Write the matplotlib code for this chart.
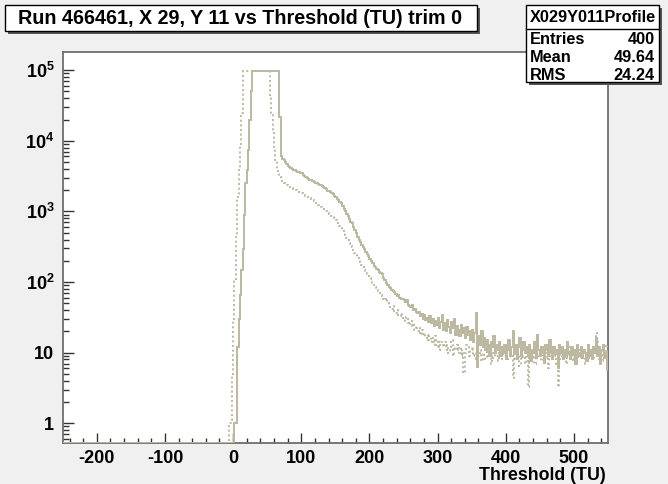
import numpy as np
import matplotlib
matplotlib.use("Agg")
import matplotlib.pyplot as plt
from matplotlib.patches import Rectangle
from matplotlib.lines import Line2D
from matplotlib.ticker import LogLocator, FixedLocator, NullFormatter

plt.rcParams['font.family'] = ['Liberation Sans', 'DejaVu Sans']
plt.rcParams['font.weight'] = 'bold'
plt.rcParams['mathtext.fontset'] = 'custom'
plt.rcParams['mathtext.rm'] = 'Liberation Sans:bold'
plt.rcParams['mathtext.bf'] = 'Liberation Sans:bold'
plt.rcParams['mathtext.it'] = 'Liberation Sans:bold'

# ---------------- data ----------------
title = "Run 466461, X 29, Y 11 vs Threshold (TU) trim 0"
stats_name = "X029Y011Profile"
stats_rows = [("Entries", "400"), ("Mean", "49.64"), ("RMS", "24.24")]
x_label = "Threshold (TU)"

x_min, x_max, bin_width = -250, 550, 2
x_ticks = [-200, -100, 0, 100, 200, 300, 400, 500]
y_ticks = [1, 10, 100, 1000, 10000, 100000]
y_tick_labels = ["1", "10", r"$10^{2}$", r"$10^{3}$", r"$10^{4}$", r"$10^{5}$"]

# bins -250 .. -12 are empty for both series
n_empty_left = 120

# solid series, bins starting at -10
solid_values = [
    0, 0, 0, 0, 0, 0, 1, 1, 12, 30,
    65, 150, 290, 900, 2500, 3900, 7400, 20000, 50000, 96000,
    96000, 96000, 96000, 96000, 96000, 96000, 96000, 96000, 96000, 96000,
    96000, 96000, 96000, 96000, 96000, 96000, 96000, 96000, 96000, 22000,
    6000, 5600, 5300, 5000, 4700, 4400, 4300, 4100, 4000, 3900,
    3800, 3700, 3650, 3600, 3550, 3450, 3300, 3200, 3100, 3000,
    2900, 2800, 2750, 2700, 2600, 2550, 2500, 2450, 2400, 2380,
    2300, 2200, 2150, 2050, 1950, 1950, 1900, 1830, 1780, 1650,
    1600, 1500, 1430, 1350, 1300, 1200, 1100, 1000, 930, 850,
    790, 720, 680, 600, 540, 490, 440, 400, 370, 340,
    310, 295, 265, 250, 230, 210, 200, 185, 170, 165,
    155, 150, 140, 134, 128, 115, 108, 98, 92, 86,
    82, 78, 74, 72, 68, 64, 66, 60, 58, 57,
    55, 52, 56, 48, 46, 44, 47, 40, 41, 38,
    36, 38, 33, 35, 30, 34, 29, 31, 27, 33,
    26, 30, 24, 28, 25, 31, 22, 27, 34, 21,
    26, 20, 29, 23, 19, 27, 22, 30, 18, 24,
    21, 17, 25, 19, 22, 16, 23, 18, 20, 15,
    21, 14, 19, 36, 6.3, 17, 13, 20, 12, 16,
    11, 15, 13, 9, 14, 12, 17, 10, 13, 11,
    14, 9, 12, 10, 13, 8, 11, 15, 9, 12,
    20, 10, 13, 8, 12, 16, 9, 11, 14, 10,
    12, 9, 13, 7.5, 11, 10, 14, 8.5, 17.8, 11,
    9, 12, 10, 7.2, 13, 11, 9, 15, 10, 8,
    12, 9.5, 11, 6, 13, 10, 12, 8, 11, 9,
    14, 10, 8, 12, 9.5, 11, 7, 13, 10, 9,
    12, 8.5, 11, 10, 7.5, 13, 9, 11, 8, 12,
    10, 16, 9, 12, 7, 11, 13, 8.5, 10, 5.7,
]

# dotted series, bins starting at -10
dotted_values = [
    0, 0, 1, 1, 5, 29, 107, 440, 1620, 3900,
    9000, 25000, 96000, 96000, 96000, 96000, 96000, 96000, 96000, 96000,
    96000, 96000, 96000, 96000, 96000, 96000, 96000, 96000, 96000, 96000,
    96000, 96000, 45000, 25000, 14000, 8300, 5300, 4000, 3500, 3100,
    2800, 2650, 2550, 2450, 2400, 2300, 2250, 2200, 2150, 2100,
    2050, 2000, 1950, 1900, 1850, 1800, 1750, 1700, 1650, 1620,
    1580, 1540, 1500, 1460, 1420, 1380, 1330, 1230, 1190, 1150,
    1110, 1070, 1030, 1000, 960, 930, 900, 870, 830, 800,
    750, 710, 670, 620, 580, 540, 500, 460, 420, 390,
    360, 330, 310, 280, 260, 245, 225, 205, 190, 175,
    170, 150, 140, 130, 120, 115, 105, 98, 92, 85,
    80, 75, 70, 66, 64, 58, 55, 60, 50, 47,
    45, 42, 46, 38, 36, 40, 34, 33, 36, 31,
    30, 28, 32, 26, 25, 28, 23, 26, 21, 24,
    20, 22, 18, 21, 17, 19, 16, 18, 15, 17,
    14, 16, 13, 17, 12, 15, 11, 14, 13, 12,
    14, 11, 13, 10, 12, 15, 9, 12, 11, 13,
    10, 12, 9, 11, 5.2, 10, 13, 12, 9, 11,
    12, 9, 10, 8, 13, 9, 11, 7.5, 10, 9,
    8, 11, 9, 12, 7, 10, 8.5, 11, 9, 7.5,
    10, 8, 11, 9, 9, 12, 8, 8, 10, 9,
    4.4, 11, 8, 9.5, 10, 6.5, 12, 8, 9, 7,
    10, 3.3, 11, 9, 8, 10, 7, 12, 8, 9,
    11, 7.5, 9, 10, 8, 12, 6, 9, 11, 8,
    9, 10, 7, 3.3, 12, 8, 10, 9, 11, 7,
    9, 12, 8, 10, 7.5, 11, 9, 8, 12, 10,
    8, 11, 9, 7, 10, 12, 8.5, 9, 11, 8,
    12, 19, 14, 8, 10, 7.5, 11, 9, 13, 8,
]

# ---------------- figure ----------------
W, H = 668, 484
fig = plt.figure(figsize=(W / 100, H / 100), dpi=100, facecolor="#f0f0f0")

def fx(px):
    return px / W

def fy(py):
    return 1 - py / H

ax_l, ax_r, ax_t, ax_b = 62.7, 608, 51.7, 442.7
ax = fig.add_axes([fx(ax_l), fy(ax_b), fx(ax_r) - fx(ax_l), fy(ax_t) - fy(ax_b)])
ax.set_facecolor("white")

y_lo, y_hi = 0.53, 1.83e5
edges = np.arange(x_min, x_max + bin_width, bin_width)
solid = np.concatenate([np.zeros(n_empty_left), np.array(solid_values, float)])
dotted = np.concatenate([np.zeros(n_empty_left), np.array(dotted_values, float)])
solid_draw = np.clip(solid, y_lo * 1.005, None)
dotted_draw = np.clip(dotted, y_lo * 1.005, None)

line_col = "#bcb8a0"
ax.stairs(dotted_draw, edges, baseline=None, color=line_col, lw=1.4,
          linestyle=(0, (1.0, 1.4)), zorder=3)
ax.stairs(solid_draw, edges, baseline=None, color=line_col, lw=1.4, zorder=3)

ax.set_yscale("log")
ax.set_xlim(x_min, x_max)
ax.set_ylim(y_lo, y_hi)

ax.xaxis.set_major_locator(FixedLocator(x_ticks))
ax.xaxis.set_minor_locator(FixedLocator(np.arange(-240, 551, 20)))
ax.set_xticklabels([str(t) for t in x_ticks])
ax.yaxis.set_major_locator(FixedLocator(y_ticks))
ax.set_yticklabels(y_tick_labels)
ax.yaxis.set_minor_locator(LogLocator(base=10, subs=np.arange(2, 10), numticks=20))
ax.yaxis.set_minor_formatter(NullFormatter())

tick_col = "#333333"
ax.tick_params(axis="x", which="major", direction="in", length=7.2, width=1.0,
               color=tick_col, labelsize=13, pad=5, top=False)
ax.tick_params(axis="x", which="minor", direction="in", length=3.6, width=1.0,
               color=tick_col, top=False)
ax.tick_params(axis="y", which="major", direction="in", length=8, width=1.0,
               color=tick_col, labelsize=13, pad=6, right=False)
ax.tick_params(axis="y", which="minor", direction="in", length=4.3, width=1.0,
               color=tick_col, right=False)
for lab in ax.get_xticklabels() + ax.get_yticklabels():
    lab.set_fontweight("bold")

for s in ax.spines.values():
    s.set_color("#6e6e6e")
    s.set_linewidth(1.3)

fig.text(fx(606), fy(475), x_label, ha="right", va="center",
         fontsize=12.8, fontweight="bold")

# ---------------- title box ----------------
def shadow_box(x0, y0, x1, y1):
    fig.patches.append(Rectangle((fx(x0 + 3), fy(y1 + 3)), fx(x1 - x0), fy(y0) - fy(y1),
                                 transform=fig.transFigure, facecolor="#555555",
                                 edgecolor="none", zorder=5))
    fig.patches.append(Rectangle((fx(x0), fy(y1)), fx(x1 - x0), fy(y0) - fy(y1),
                                 transform=fig.transFigure, facecolor="white",
                                 edgecolor="black", lw=1.0, zorder=6))

shadow_box(5, 5, 477, 31)
fig.text(fx(240), fy(18.5), title, ha="center", va="center",
         fontsize=14.2, fontweight="bold", zorder=7)

# ---------------- stats box ----------------
shadow_box(526, 5, 659, 82)
fig.lines.append(Line2D([fx(526), fx(659)], [fy(29), fy(29)],
                        transform=fig.transFigure, color="black", lw=1.0, zorder=7))
fig.text(fx(593), fy(17), stats_name, ha="center", va="center",
         fontsize=11.8, fontweight="bold", zorder=7)
for i, (k, v) in enumerate(stats_rows):
    yy = 39 + i * 18.5
    fig.text(fx(530), fy(yy), k, ha="left", va="center", fontsize=11.8,
             fontweight="bold", zorder=7)
    fig.text(fx(655), fy(yy), v, ha="right", va="center", fontsize=11.8,
             fontweight="bold", zorder=7)

fig.savefig("out.png", dpi=100, facecolor=fig.get_facecolor())
